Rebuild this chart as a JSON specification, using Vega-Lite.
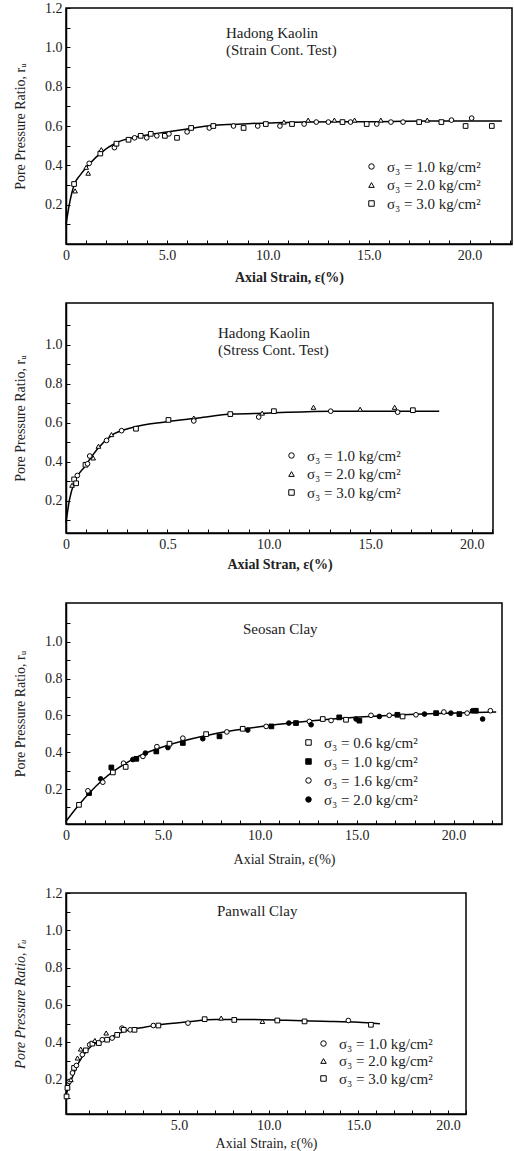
{
  "$schema": "https://vega.github.io/schema/vega-lite/v6.json",
  "background": "white",
  "padding": {"left": 12, "top": 0, "right": 0, "bottom": 0},
  "config": {
    "font": "Liberation Serif",
    "view": {"stroke": "black", "strokeWidth": 1.5},
    "axis": {
      "domainColor": "black", "domainWidth": 1.5, "tickColor": "black", "labelColor": "#222", "titleColor": "#222",
      "labelFont": "Liberation Serif", "titleFont": "Liberation Serif", "labelFontSize": 14, "titleFontSize": 14,
      "titleFontWeight": "normal", "grid": false, "tickSize": -4, "labelPadding": 8, "labelFlush": false,
      "labelOverlap": false, "labelBound": false, "tickCount": 60
    },
    "legend": {
      "orient": "none", "title": null, "padding": 0, "labelFont": "Liberation Serif", "labelFontSize": 15,
      "labelColor": "#222", "symbolStrokeColor": "black", "symbolStrokeWidth": 1, "symbolSize": 30, "rowPadding": 2.5,
      "labelOffset": 8, "symbolOpacity": 1
    },
    "title": {"font": "Liberation Serif", "fontSize": 15, "fontWeight": "normal", "color": "#222", "anchor": "start", "lineHeight": 17, "frame": "group"}
  },
  "datasets": {
    "p1c": [
      {"x": 0, "y": 0.1}, {"x": 0.2, "y": 0.22}, {"x": 0.4, "y": 0.3}, {"x": 0.7, "y": 0.35}, {"x": 1.1, "y": 0.4},
      {"x": 1.8, "y": 0.47}, {"x": 2.5, "y": 0.515}, {"x": 3.5, "y": 0.545}, {"x": 5, "y": 0.57}, {"x": 6, "y": 0.585},
      {"x": 7, "y": 0.6}, {"x": 8, "y": 0.607}, {"x": 9, "y": 0.612}, {"x": 10, "y": 0.615}, {"x": 12, "y": 0.62},
      {"x": 15, "y": 0.622}, {"x": 18, "y": 0.625}, {"x": 21.6, "y": 0.625}
    ],
    "p1p": [
      {"s": "σ₃ = 3.0 kg/cm²", "x": 0.4, "y": 0.305}, {"s": "σ₃ = 2.0 kg/cm²", "x": 0.45, "y": 0.27},
      {"s": "σ₃ = 1.0 kg/cm²", "x": 1.15, "y": 0.41}, {"s": "σ₃ = 2.0 kg/cm²", "x": 1.0, "y": 0.39},
      {"s": "σ₃ = 2.0 kg/cm²", "x": 1.1, "y": 0.36}, {"s": "σ₃ = 3.0 kg/cm²", "x": 1.7, "y": 0.46},
      {"s": "σ₃ = 2.0 kg/cm²", "x": 1.75, "y": 0.48}, {"s": "σ₃ = 1.0 kg/cm²", "x": 2.4, "y": 0.49},
      {"s": "σ₃ = 3.0 kg/cm²", "x": 2.5, "y": 0.51}, {"s": "σ₃ = 3.0 kg/cm²", "x": 3.1, "y": 0.53},
      {"s": "σ₃ = 1.0 kg/cm²", "x": 3.4, "y": 0.54}, {"s": "σ₃ = 3.0 kg/cm²", "x": 3.7, "y": 0.55},
      {"s": "σ₃ = 1.0 kg/cm²", "x": 4.0, "y": 0.54}, {"s": "σ₃ = 3.0 kg/cm²", "x": 4.2, "y": 0.56},
      {"s": "σ₃ = 1.0 kg/cm²", "x": 4.5, "y": 0.55}, {"s": "σ₃ = 3.0 kg/cm²", "x": 4.9, "y": 0.55},
      {"s": "σ₃ = 1.0 kg/cm²", "x": 5.1, "y": 0.56}, {"s": "σ₃ = 3.0 kg/cm²", "x": 5.5, "y": 0.54},
      {"s": "σ₃ = 1.0 kg/cm²", "x": 6.0, "y": 0.57}, {"s": "σ₃ = 3.0 kg/cm²", "x": 6.2, "y": 0.59},
      {"s": "σ₃ = 1.0 kg/cm²", "x": 7.1, "y": 0.59}, {"s": "σ₃ = 3.0 kg/cm²", "x": 7.3, "y": 0.6},
      {"s": "σ₃ = 1.0 kg/cm²", "x": 8.3, "y": 0.6}, {"s": "σ₃ = 3.0 kg/cm²", "x": 8.8, "y": 0.59},
      {"s": "σ₃ = 1.0 kg/cm²", "x": 9.5, "y": 0.6}, {"s": "σ₃ = 3.0 kg/cm²", "x": 9.9, "y": 0.61},
      {"s": "σ₃ = 1.0 kg/cm²", "x": 10.6, "y": 0.6}, {"s": "σ₃ = 2.0 kg/cm²", "x": 10.8, "y": 0.62},
      {"s": "σ₃ = 3.0 kg/cm²", "x": 11.2, "y": 0.61}, {"s": "σ₃ = 1.0 kg/cm²", "x": 11.8, "y": 0.61},
      {"s": "σ₃ = 2.0 kg/cm²", "x": 12.0, "y": 0.63}, {"s": "σ₃ = 1.0 kg/cm²", "x": 12.4, "y": 0.62},
      {"s": "σ₃ = 1.0 kg/cm²", "x": 13.0, "y": 0.62}, {"s": "σ₃ = 2.0 kg/cm²", "x": 13.3, "y": 0.63},
      {"s": "σ₃ = 3.0 kg/cm²", "x": 13.7, "y": 0.62}, {"s": "σ₃ = 1.0 kg/cm²", "x": 14.1, "y": 0.62},
      {"s": "σ₃ = 2.0 kg/cm²", "x": 14.3, "y": 0.63}, {"s": "σ₃ = 3.0 kg/cm²", "x": 14.9, "y": 0.61},
      {"s": "σ₃ = 1.0 kg/cm²", "x": 15.4, "y": 0.61}, {"s": "σ₃ = 2.0 kg/cm²", "x": 15.6, "y": 0.63},
      {"s": "σ₃ = 1.0 kg/cm²", "x": 16.1, "y": 0.62}, {"s": "σ₃ = 1.0 kg/cm²", "x": 16.7, "y": 0.62},
      {"s": "σ₃ = 3.0 kg/cm²", "x": 17.5, "y": 0.62}, {"s": "σ₃ = 2.0 kg/cm²", "x": 17.9, "y": 0.63},
      {"s": "σ₃ = 3.0 kg/cm²", "x": 18.6, "y": 0.62}, {"s": "σ₃ = 1.0 kg/cm²", "x": 19.1, "y": 0.63},
      {"s": "σ₃ = 3.0 kg/cm²", "x": 19.8, "y": 0.6}, {"s": "σ₃ = 1.0 kg/cm²", "x": 20.1, "y": 0.64},
      {"s": "σ₃ = 3.0 kg/cm²", "x": 21.1, "y": 0.6}
    ],
    "p2c": [
      {"x": 0, "y": 0.09}, {"x": 0.18, "y": 0.21}, {"x": 0.43, "y": 0.3}, {"x": 0.92, "y": 0.375}, {"x": 1.58, "y": 0.47},
      {"x": 2.24, "y": 0.535}, {"x": 3.23, "y": 0.575}, {"x": 4.88, "y": 0.605}, {"x": 6.53, "y": 0.625},
      {"x": 8.18, "y": 0.645}, {"x": 9.83, "y": 0.65}, {"x": 13.1, "y": 0.66}, {"x": 18.4, "y": 0.66}
    ],
    "p2p": [
      {"s": "σ₃ = 2.0 kg/cm²", "x": 0.3, "y": 0.28}, {"s": "σ₃ = 3.0 kg/cm²", "x": 0.4, "y": 0.31},
      {"s": "σ₃ = 3.0 kg/cm²", "x": 0.5, "y": 0.29}, {"s": "σ₃ = 1.0 kg/cm²", "x": 0.56, "y": 0.33},
      {"s": "σ₃ = 3.0 kg/cm²", "x": 0.96, "y": 0.385}, {"s": "σ₃ = 1.0 kg/cm²", "x": 1.06, "y": 0.39},
      {"s": "σ₃ = 1.0 kg/cm²", "x": 1.17, "y": 0.43}, {"s": "σ₃ = 2.0 kg/cm²", "x": 1.34, "y": 0.42},
      {"s": "σ₃ = 2.0 kg/cm²", "x": 1.6, "y": 0.48}, {"s": "σ₃ = 1.0 kg/cm²", "x": 2.0, "y": 0.51},
      {"s": "σ₃ = 2.0 kg/cm²", "x": 2.24, "y": 0.54}, {"s": "σ₃ = 1.0 kg/cm²", "x": 2.74, "y": 0.56},
      {"s": "σ₃ = 3.0 kg/cm²", "x": 3.45, "y": 0.57}, {"s": "σ₃ = 3.0 kg/cm²", "x": 5.05, "y": 0.615},
      {"s": "σ₃ = 2.0 kg/cm²", "x": 6.3, "y": 0.625}, {"s": "σ₃ = 1.0 kg/cm²", "x": 6.3, "y": 0.61},
      {"s": "σ₃ = 3.0 kg/cm²", "x": 8.1, "y": 0.645}, {"s": "σ₃ = 1.0 kg/cm²", "x": 9.5, "y": 0.63},
      {"s": "σ₃ = 2.0 kg/cm²", "x": 9.67, "y": 0.65}, {"s": "σ₃ = 3.0 kg/cm²", "x": 10.25, "y": 0.66},
      {"s": "σ₃ = 2.0 kg/cm²", "x": 12.2, "y": 0.68}, {"s": "σ₃ = 1.0 kg/cm²", "x": 13.05, "y": 0.66},
      {"s": "σ₃ = 2.0 kg/cm²", "x": 14.5, "y": 0.67}, {"s": "σ₃ = 2.0 kg/cm²", "x": 16.2, "y": 0.68},
      {"s": "σ₃ = 1.0 kg/cm²", "x": 16.35, "y": 0.655}, {"s": "σ₃ = 3.0 kg/cm²", "x": 17.1, "y": 0.665}
    ],
    "p3c": [
      {"x": 0, "y": 0.024}, {"x": 0.67, "y": 0.114}, {"x": 1.9, "y": 0.25}, {"x": 3.6, "y": 0.37}, {"x": 5.34, "y": 0.44},
      {"x": 7.06, "y": 0.486}, {"x": 8.78, "y": 0.52}, {"x": 10.5, "y": 0.545}, {"x": 12.2, "y": 0.565},
      {"x": 13.9, "y": 0.582}, {"x": 15.65, "y": 0.594}, {"x": 17.37, "y": 0.603}, {"x": 19.1, "y": 0.61}, {"x": 22.2, "y": 0.618}
    ],
    "p3p": [
      {"s": "σ₃ = 0.6 kg/cm²", "x": 0.67, "y": 0.114}, {"s": "σ₃ = 1.0 kg/cm²", "x": 1.19, "y": 0.178},
      {"s": "σ₃ = 1.6 kg/cm²", "x": 1.13, "y": 0.19}, {"s": "σ₃ = 2.0 kg/cm²", "x": 1.79, "y": 0.255},
      {"s": "σ₃ = 1.6 kg/cm²", "x": 1.9, "y": 0.237}, {"s": "σ₃ = 1.0 kg/cm²", "x": 2.34, "y": 0.317},
      {"s": "σ₃ = 0.6 kg/cm²", "x": 2.42, "y": 0.29}, {"s": "σ₃ = 1.6 kg/cm²", "x": 2.97, "y": 0.34},
      {"s": "σ₃ = 0.6 kg/cm²", "x": 3.08, "y": 0.32}, {"s": "σ₃ = 2.0 kg/cm²", "x": 3.45, "y": 0.36},
      {"s": "σ₃ = 1.0 kg/cm²", "x": 3.63, "y": 0.364}, {"s": "σ₃ = 1.6 kg/cm²", "x": 3.97, "y": 0.377},
      {"s": "σ₃ = 2.0 kg/cm²", "x": 4.1, "y": 0.395}, {"s": "σ₃ = 1.0 kg/cm²", "x": 4.66, "y": 0.404},
      {"s": "σ₃ = 1.6 kg/cm²", "x": 4.69, "y": 0.43}, {"s": "σ₃ = 2.0 kg/cm²", "x": 5.26, "y": 0.425},
      {"s": "σ₃ = 0.6 kg/cm²", "x": 5.34, "y": 0.446}, {"s": "σ₃ = 1.0 kg/cm²", "x": 6.03, "y": 0.45},
      {"s": "σ₃ = 1.6 kg/cm²", "x": 6.03, "y": 0.476}, {"s": "σ₃ = 2.0 kg/cm²", "x": 7.06, "y": 0.473},
      {"s": "σ₃ = 0.6 kg/cm²", "x": 7.23, "y": 0.498}, {"s": "σ₃ = 1.0 kg/cm²", "x": 7.92, "y": 0.486},
      {"s": "σ₃ = 1.6 kg/cm²", "x": 8.3, "y": 0.51}, {"s": "σ₃ = 2.0 kg/cm²", "x": 9.38, "y": 0.52},
      {"s": "σ₃ = 0.6 kg/cm²", "x": 9.12, "y": 0.527}, {"s": "σ₃ = 1.6 kg/cm²", "x": 10.33, "y": 0.54},
      {"s": "σ₃ = 1.0 kg/cm²", "x": 10.6, "y": 0.54}, {"s": "σ₃ = 2.0 kg/cm²", "x": 11.5, "y": 0.558},
      {"s": "σ₃ = 1.0 kg/cm²", "x": 11.87, "y": 0.558}, {"s": "σ₃ = 1.6 kg/cm²", "x": 12.56, "y": 0.567},
      {"s": "σ₃ = 2.0 kg/cm²", "x": 12.65, "y": 0.549}, {"s": "σ₃ = 0.6 kg/cm²", "x": 13.25, "y": 0.58},
      {"s": "σ₃ = 1.6 kg/cm²", "x": 13.68, "y": 0.572}, {"s": "σ₃ = 1.0 kg/cm²", "x": 14.1, "y": 0.589},
      {"s": "σ₃ = 0.6 kg/cm²", "x": 14.45, "y": 0.576}, {"s": "σ₃ = 2.0 kg/cm²", "x": 14.97, "y": 0.58},
      {"s": "σ₃ = 1.0 kg/cm²", "x": 15.14, "y": 0.571}, {"s": "σ₃ = 1.6 kg/cm²", "x": 15.74, "y": 0.6},
      {"s": "σ₃ = 2.0 kg/cm²", "x": 16.17, "y": 0.594}, {"s": "σ₃ = 1.6 kg/cm²", "x": 16.68, "y": 0.6},
      {"s": "σ₃ = 1.0 kg/cm²", "x": 17.1, "y": 0.603}, {"s": "σ₃ = 0.6 kg/cm²", "x": 17.37, "y": 0.594},
      {"s": "σ₃ = 1.6 kg/cm²", "x": 18.06, "y": 0.603}, {"s": "σ₃ = 2.0 kg/cm²", "x": 18.5, "y": 0.607},
      {"s": "σ₃ = 1.0 kg/cm²", "x": 19.1, "y": 0.612}, {"s": "σ₃ = 1.6 kg/cm²", "x": 19.5, "y": 0.618},
      {"s": "σ₃ = 2.0 kg/cm²", "x": 19.86, "y": 0.612}, {"s": "σ₃ = 1.0 kg/cm²", "x": 20.3, "y": 0.607},
      {"s": "σ₃ = 1.6 kg/cm²", "x": 20.7, "y": 0.612}, {"s": "σ₃ = 2.0 kg/cm²", "x": 20.98, "y": 0.625},
      {"s": "σ₃ = 1.0 kg/cm²", "x": 21.15, "y": 0.625}, {"s": "σ₃ = 2.0 kg/cm²", "x": 21.5, "y": 0.58},
      {"s": "σ₃ = 1.6 kg/cm²", "x": 21.9, "y": 0.625}
    ],
    "p4c": [
      {"x": -1.3, "y": 0.12}, {"x": -1.0, "y": 0.2}, {"x": -0.6, "y": 0.29}, {"x": 0, "y": 0.37}, {"x": 1, "y": 0.42},
      {"x": 2, "y": 0.46}, {"x": 3, "y": 0.48}, {"x": 4, "y": 0.495}, {"x": 5.5, "y": 0.51}, {"x": 7, "y": 0.522},
      {"x": 9, "y": 0.522}, {"x": 11, "y": 0.518}, {"x": 13, "y": 0.513}, {"x": 15, "y": 0.508}, {"x": 16.2, "y": 0.5}
    ],
    "p4p": [
      {"s": "σ₃ = 3.0 kg/cm²", "x": -1.27, "y": 0.11}, {"s": "σ₃ = 3.0 kg/cm²", "x": -1.22, "y": 0.156},
      {"s": "σ₃ = 1.0 kg/cm²", "x": -1.12, "y": 0.19}, {"s": "σ₃ = 2.0 kg/cm²", "x": -1.03, "y": 0.2},
      {"s": "σ₃ = 1.0 kg/cm²", "x": -0.94, "y": 0.236}, {"s": "σ₃ = 3.0 kg/cm²", "x": -0.85, "y": 0.263},
      {"s": "σ₃ = 1.0 kg/cm²", "x": -0.72, "y": 0.276}, {"s": "σ₃ = 2.0 kg/cm²", "x": -0.66, "y": 0.316},
      {"s": "σ₃ = 1.0 kg/cm²", "x": -0.39, "y": 0.334}, {"s": "σ₃ = 2.0 kg/cm²", "x": -0.48, "y": 0.364},
      {"s": "σ₃ = 3.0 kg/cm²", "x": -0.2, "y": 0.357}, {"s": "σ₃ = 1.0 kg/cm²", "x": 0.02, "y": 0.387},
      {"s": "σ₃ = 3.0 kg/cm²", "x": 0.17, "y": 0.393}, {"s": "σ₃ = 2.0 kg/cm²", "x": 0.31, "y": 0.41},
      {"s": "σ₃ = 3.0 kg/cm²", "x": 0.53, "y": 0.396}, {"s": "σ₃ = 1.0 kg/cm²", "x": 0.72, "y": 0.414},
      {"s": "σ₃ = 2.0 kg/cm²", "x": 0.94, "y": 0.45}, {"s": "σ₃ = 3.0 kg/cm²", "x": 0.99, "y": 0.414},
      {"s": "σ₃ = 1.0 kg/cm²", "x": 1.27, "y": 0.423}, {"s": "σ₃ = 3.0 kg/cm²", "x": 1.55, "y": 0.44},
      {"s": "σ₃ = 1.0 kg/cm²", "x": 1.82, "y": 0.476}, {"s": "σ₃ = 3.0 kg/cm²", "x": 1.92, "y": 0.467},
      {"s": "σ₃ = 1.0 kg/cm²", "x": 2.28, "y": 0.467}, {"s": "σ₃ = 3.0 kg/cm²", "x": 2.52, "y": 0.467},
      {"s": "σ₃ = 1.0 kg/cm²", "x": 3.57, "y": 0.49}, {"s": "σ₃ = 3.0 kg/cm²", "x": 3.85, "y": 0.49},
      {"s": "σ₃ = 1.0 kg/cm²", "x": 5.5, "y": 0.503}, {"s": "σ₃ = 3.0 kg/cm²", "x": 6.43, "y": 0.524},
      {"s": "σ₃ = 2.0 kg/cm²", "x": 7.35, "y": 0.53}, {"s": "σ₃ = 3.0 kg/cm²", "x": 8.08, "y": 0.52},
      {"s": "σ₃ = 2.0 kg/cm²", "x": 9.65, "y": 0.512}, {"s": "σ₃ = 3.0 kg/cm²", "x": 10.48, "y": 0.517},
      {"s": "σ₃ = 3.0 kg/cm²", "x": 12.0, "y": 0.512}, {"s": "σ₃ = 1.0 kg/cm²", "x": 14.44, "y": 0.517},
      {"s": "σ₃ = 3.0 kg/cm²", "x": 15.7, "y": 0.494}
    ]
  },
  "spacing": 30,
  "vconcat": [
    {
      "spacing": 17,
      "resolve": {"scale": {"x": "independent", "y": "independent", "shape": "independent", "fill": "independent", "stroke": "independent"}, "legend": {"shape": "independent", "fill": "independent", "stroke": "independent"}},
      "vconcat": [
        {
          "width": 446, "height": 236,
          "title": {"text": ["Hadong Kaolin", "(Strain Cont. Test)"], "dx": 160, "offset": -57},
          "layer": [
            {"data": {"name": "p1c"}, "mark": {"type": "line", "color": "black", "strokeWidth": 1.5, "interpolate": "monotone"},
              "encoding": {
                "x": {"field": "x", "type": "quantitative", "scale": {"domain": [0, 22.1], "nice": false, "zero": false},
                  "axis": {"title": "Axial Strain, ε(%)", "titleFontWeight": "bold", "labelOverlap": false, "tickCount": 60, "values": [0,1,2,3,4,5,6,7,8,9,10,11,12,13,14,15,16,17,18,19,20,21,22],
                    "labelExpr": "datum.value == 0 ? '0' : (datum.value % 5 == 0 ? format(datum.value, '.1f') : '')", "titlePadding": 8}},
                "y": {"field": "y", "type": "quantitative", "scale": {"domain": [0, 1.2], "nice": false, "zero": false},
                  "axis": {"title": "Pore Pressure Ratio, rᵤ", "labelOverlap": false, "tickCount": 60, "values": [0.1,0.2,0.3,0.4,0.5,0.6,0.7,0.8,0.9,1.0,1.1,1.2],
                    "labelExpr": "round(datum.value*10) % 2 == 0 ? format(datum.value, '.1f') : ''", "titlePadding": 17}}
              }},
            {"data": {"name": "p1p"}, "mark": {"type": "point", "filled": true, "opacity": 1, "strokeWidth": 1, "size": 22},
              "encoding": {
                "x": {"field": "x", "type": "quantitative"},
                "y": {"field": "y", "type": "quantitative"},
                "shape": {"field": "s", "type": "nominal", "scale": {"domain": ["σ₃ = 1.0 kg/cm²", "σ₃ = 2.0 kg/cm²", "σ₃ = 3.0 kg/cm²"], "range": ["circle", "triangle-up", "square"]},
                  "legend": {"legendX": 298, "legendY": 151}},
                "fill": {"field": "s", "type": "nominal", "scale": {"domain": ["σ₃ = 1.0 kg/cm²", "σ₃ = 2.0 kg/cm²", "σ₃ = 3.0 kg/cm²"], "range": ["white", "white", "white"]},
                  "legend": {"legendX": 298, "legendY": 151}},
                "stroke": {"field": "s", "type": "nominal", "scale": {"domain": ["σ₃ = 1.0 kg/cm²", "σ₃ = 2.0 kg/cm²", "σ₃ = 3.0 kg/cm²"], "range": ["black", "black", "black"]},
                  "legend": {"legendX": 298, "legendY": 151}}
              }}
          ]
        },
        {
          "width": 427, "height": 230,
          "title": {"text": ["Hadong Kaolin", "(Stress Cont. Test)"], "dx": 152, "offset": -55},
          "layer": [
            {"data": {"name": "p2c"}, "mark": {"type": "line", "color": "black", "strokeWidth": 1.5, "interpolate": "monotone"},
              "encoding": {
                "x": {"field": "x", "type": "quantitative", "scale": {"domain": [0, 21.05], "nice": false, "zero": false},
                  "axis": {"title": "Axial Stran, ε(%)", "titleFontWeight": "bold", "labelOverlap": false, "tickCount": 60, "values": [0,1,2,3,4,5,6,7,8,9,10,11,12,13,14,15,16,17,18,19,20,21],
                    "labelExpr": "datum.value == 0 ? '0' : (datum.value == 5 ? '0.5' : (datum.value % 5 == 0 ? format(datum.value, '.1f') : ''))", "titlePadding": 6}},
                "y": {"field": "y", "type": "quantitative", "scale": {"domain": [0.035, 1.215], "nice": false, "zero": false},
                  "axis": {"title": "Pore Pressure Ratio, rᵤ", "labelOverlap": false, "tickCount": 60, "values": [0.1,0.2,0.3,0.4,0.5,0.6,0.7,0.8,0.9,1.0,1.1],
                    "labelExpr": "round(datum.value*10) % 2 == 0 ? format(datum.value, '.1f') : ''", "titlePadding": 17}}
              }},
            {"data": {"name": "p2p"}, "mark": {"type": "point", "filled": true, "opacity": 1, "strokeWidth": 1, "size": 22},
              "encoding": {
                "x": {"field": "x", "type": "quantitative"},
                "y": {"field": "y", "type": "quantitative"},
                "shape": {"field": "s", "type": "nominal", "scale": {"domain": ["σ₃ = 1.0 kg/cm²", "σ₃ = 2.0 kg/cm²", "σ₃ = 3.0 kg/cm²"], "range": ["circle", "triangle-up", "square"]},
                  "legend": {"legendX": 218, "legendY": 145}},
                "fill": {"field": "s", "type": "nominal", "scale": {"domain": ["σ₃ = 1.0 kg/cm²", "σ₃ = 2.0 kg/cm²", "σ₃ = 3.0 kg/cm²"], "range": ["white", "white", "white"]},
                  "legend": {"legendX": 218, "legendY": 145}},
                "stroke": {"field": "s", "type": "nominal", "scale": {"domain": ["σ₃ = 1.0 kg/cm²", "σ₃ = 2.0 kg/cm²", "σ₃ = 3.0 kg/cm²"], "range": ["black", "black", "black"]},
                  "legend": {"legendX": 218, "legendY": 145}}
              }}
          ]
        }
      ]
    },
    {
      "spacing": 18,
      "resolve": {"scale": {"x": "independent", "y": "independent", "shape": "independent", "fill": "independent", "stroke": "independent"}, "legend": {"shape": "independent", "fill": "independent", "stroke": "independent"}},
      "vconcat": [
        {
          "width": 436, "height": 221,
          "title": {"text": "Seosan Clay", "dx": 177, "offset": -34},
          "layer": [
            {"data": {"name": "p3c"}, "mark": {"type": "line", "color": "black", "strokeWidth": 1.5, "interpolate": "monotone"},
              "encoding": {
                "x": {"field": "x", "type": "quantitative", "scale": {"domain": [0, 22.5], "nice": false, "zero": false},
                  "axis": {"title": "Axial Strain, ε(%)", "labelOverlap": false, "tickCount": 60, "values": [0,1,2,3,4,5,6,7,8,9,10,11,12,13,14,15,16,17,18,19,20,21,22],
                    "labelExpr": "datum.value == 0 ? '0' : (datum.value % 5 == 0 ? format(datum.value, '.1f') : '')", "titlePadding": 10}},
                "y": {"field": "y", "type": "quantitative", "scale": {"domain": [0.01, 1.21], "nice": false, "zero": false},
                  "axis": {"title": "Pore Pressure Ratio, rᵤ", "labelOverlap": false, "tickCount": 60, "values": [0.1,0.2,0.3,0.4,0.5,0.6,0.7,0.8,0.9,1.0,1.1],
                    "labelExpr": "round(datum.value*10) % 2 == 0 ? format(datum.value, '.1f') : ''", "titlePadding": 17}}
              }},
            {"data": {"name": "p3p"}, "mark": {"type": "point", "filled": true, "opacity": 1, "strokeWidth": 1, "size": 22},
              "encoding": {
                "x": {"field": "x", "type": "quantitative"},
                "y": {"field": "y", "type": "quantitative"},
                "shape": {"field": "s", "type": "nominal", "scale": {"domain": ["σ₃ = 0.6 kg/cm²", "σ₃ = 1.0 kg/cm²", "σ₃ = 1.6 kg/cm²", "σ₃ = 2.0 kg/cm²"], "range": ["square", "square", "circle", "circle"]},
                  "legend": {"legendX": 235, "legendY": 132, "rowPadding": 3}},
                "fill": {"field": "s", "type": "nominal", "scale": {"domain": ["σ₃ = 0.6 kg/cm²", "σ₃ = 1.0 kg/cm²", "σ₃ = 1.6 kg/cm²", "σ₃ = 2.0 kg/cm²"], "range": ["white", "black", "white", "black"]},
                  "legend": {"legendX": 235, "legendY": 132, "rowPadding": 3}},
                "stroke": {"field": "s", "type": "nominal", "scale": {"domain": ["σ₃ = 0.6 kg/cm²", "σ₃ = 1.0 kg/cm²", "σ₃ = 1.6 kg/cm²", "σ₃ = 2.0 kg/cm²"], "range": ["black", "black", "black", "black"]},
                  "legend": {"legendX": 235, "legendY": 132, "rowPadding": 3}}
              }}
          ]
        },
        {
          "width": 400, "height": 221,
          "title": {"text": "Panwall Clay", "dx": 151, "offset": -33},
          "layer": [
            {"data": {"name": "p4c"}, "mark": {"type": "line", "color": "black", "strokeWidth": 1.5, "interpolate": "monotone"},
              "encoding": {
                "x": {"field": "x", "type": "quantitative", "scale": {"domain": [-1.3, 21], "nice": false, "zero": false},
                  "axis": {"title": "Axial Strain, ε(%)", "labelOverlap": false, "tickCount": 60, "values": [0,1,2,3,4,5,6,7,8,9,10,11,12,13,14,15,16,17,18,19,20,21],
                    "labelExpr": "datum.value > 0 && datum.value % 5 == 0 ? format(datum.value, '.1f') : ''", "titlePadding": 4}},
                "y": {"field": "y", "type": "quantitative", "scale": {"domain": [0.016, 1.2], "nice": false, "zero": false},
                  "axis": {"title": "Pore Pressure Ratio, rᵤ", "titleFontStyle": "italic", "labelOverlap": false, "tickCount": 60, "values": [0.1,0.2,0.3,0.4,0.5,0.6,0.7,0.8,0.9,1.0,1.1,1.2],
                    "labelExpr": "round(datum.value*10) % 2 == 0 ? format(datum.value, '.1f') : ''", "titlePadding": 17}}
              }},
            {"data": {"name": "p4p"}, "mark": {"type": "point", "filled": true, "opacity": 1, "strokeWidth": 1, "size": 22},
              "encoding": {
                "x": {"field": "x", "type": "quantitative"},
                "y": {"field": "y", "type": "quantitative"},
                "shape": {"field": "s", "type": "nominal", "scale": {"domain": ["σ₃ = 1.0 kg/cm²", "σ₃ = 2.0 kg/cm²", "σ₃ = 3.0 kg/cm²"], "range": ["circle", "triangle-up", "square"]},
                  "legend": {"legendX": 250, "legendY": 143, "rowPadding": 1.5}},
                "fill": {"field": "s", "type": "nominal", "scale": {"domain": ["σ₃ = 1.0 kg/cm²", "σ₃ = 2.0 kg/cm²", "σ₃ = 3.0 kg/cm²"], "range": ["white", "white", "white"]},
                  "legend": {"legendX": 250, "legendY": 143, "rowPadding": 1.5}},
                "stroke": {"field": "s", "type": "nominal", "scale": {"domain": ["σ₃ = 1.0 kg/cm²", "σ₃ = 2.0 kg/cm²", "σ₃ = 3.0 kg/cm²"], "range": ["black", "black", "black"]},
                  "legend": {"legendX": 250, "legendY": 143, "rowPadding": 1.5}}
              }}
          ]
        }
      ]
    }
  ]
}
